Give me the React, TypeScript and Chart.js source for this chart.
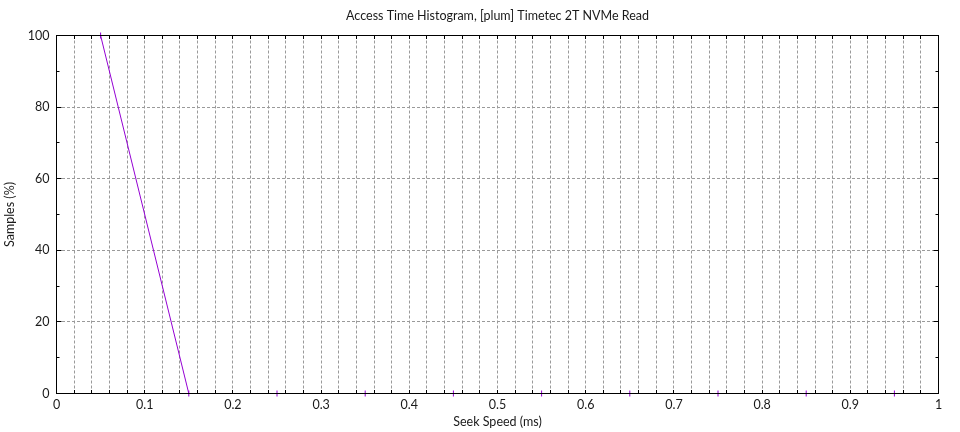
import React, { useEffect, useRef } from "react";
import { Chart, registerables } from "chart.js";

Chart.register(...registerables);

const chartTitle = "Access Time Histogram, [plum] Timetec 2T NVMe Read";
const xAxisTitle = "Seek Speed (ms)";
const yAxisTitle = "Samples (%)";

// Series: bucket centres (ms) and share of samples (%)
const seekSpeeds = [0.05, 0.15, 0.25, 0.35, 0.45, 0.55, 0.65, 0.75, 0.85, 0.95];
const samplePct = [100, 0, 0, 0, 0, 0, 0, 0, 0, 0];

const xMajorLabels = ["0", "0.1", "0.2", "0.3", "0.4", "0.5", "0.6", "0.7", "0.8", "0.9", "1"];
const yMajorLabels = ["0", "20", "40", "60", "80", "100"];

const X_MIN = 0, X_MAX = 1, X_STEP = 0.02;
const Y_MIN = 0, Y_MAX = 100, Y_STEP = 10;

const LINE_COLOR = "#9400d3";
const TEXT_COLOR = "#1a1a1a";
const GRID_COLOR = "#9a9a9a";
const FONT = "Lato";
const FONT_SIZE = 12.5;

const xTickVals: number[] = [];
for (let i = 0; i <= Math.round((X_MAX - X_MIN) / X_STEP); i++) xTickVals.push(+(X_MIN + i * X_STEP).toFixed(4));
const yTickVals: number[] = [];
for (let i = 0; i <= Math.round((Y_MAX - Y_MIN) / Y_STEP); i++) yTickVals.push(Y_MIN + i * Y_STEP);

const isXMajor = (v: number) => Math.abs(v * 10 - Math.round(v * 10)) < 1e-6;
const isYMajor = (v: number) => Math.round(v) % 20 === 0;

const framePlugin = {
  id: "frame",
  afterDatasetsDraw(chart: any) {
    const { ctx, chartArea } = chart;
    const { left, right, top, bottom } = chartArea;
    const xs = chart.scales.x;
    const ys = chart.scales.y;
    ctx.save();
    ctx.strokeStyle = "#000";
    ctx.lineWidth = 1;
    ctx.beginPath();
    for (const v of xTickVals) {
      const px = Math.floor(xs.getPixelForValue(v)) + 0.5;
      ctx.moveTo(px, bottom);
      ctx.lineTo(px, bottom - 3.5);
      ctx.moveTo(px, top);
      ctx.lineTo(px, top + 3.5);
    }
    for (const v of yTickVals) {
      const py = Math.floor(ys.getPixelForValue(v)) + 0.5;
      const len = isYMajor(v) ? 5 : 3;
      ctx.moveTo(left, py);
      ctx.lineTo(left + len, py);
      ctx.moveTo(right, py);
      ctx.lineTo(right - len, py);
    }
    ctx.stroke();
    ctx.strokeRect(left, top, right - left, bottom - top);
    ctx.restore();
  },
};

export default function App() {
  const canvasRef = useRef<HTMLCanvasElement | null>(null);

  useEffect(() => {
    if (!canvasRef.current) return;
    const chart = new Chart(canvasRef.current, {
      type: "scatter",
      data: {
        datasets: [
          {
            label: "samples",
            data: seekSpeeds.map((x, i) => ({ x, y: samplePct[i] })),
            showLine: true,
            borderColor: LINE_COLOR,
            backgroundColor: LINE_COLOR,
            borderWidth: 1,
            pointStyle: "line",
            rotation: 90,
            pointRadius: 3,
            pointBorderWidth: 1,
            pointBorderColor: LINE_COLOR,
            pointHoverRadius: 3,
            clip: false,
          } as any,
        ],
      },
      options: {
        animation: false,
        responsive: true,
        maintainAspectRatio: false,
        devicePixelRatio: 1,
        layout: { padding: { left: 0, right: 21.5, top: 0, bottom: 0 } },
        plugins: {
          legend: { display: false },
          tooltip: { enabled: false },
          title: {
            display: true,
            fullSize: false,
            text: chartTitle,
            color: TEXT_COLOR,
            font: { family: FONT, size: FONT_SIZE, weight: "normal", lineHeight: 1.2 },
            padding: { top: 8.7, bottom: 11.8 },
          },
        },
        scales: {
          x: {
            type: "linear",
            min: X_MIN,
            max: X_MAX,
            afterBuildTicks: (scale: any) => {
              scale.ticks = xTickVals.map((v) => ({ value: v }));
            },
            afterFit: (scale: any) => {
              scale.height = 38.5;
            },
            border: { display: false, dash: [3, 2] },
            grid: {
              drawTicks: false,
              color: (c: any) => (c.tick && (c.tick.value <= X_MIN || c.tick.value >= X_MAX) ? "rgba(0,0,0,0)" : GRID_COLOR),
              lineWidth: 1,
            },
            ticks: {
              autoSkip: false,
              maxRotation: 0,
              padding: 4,
              color: TEXT_COLOR,
              font: { family: FONT, size: FONT_SIZE },
              callback: (v: any) => {
                const n = Number(v);
                return isXMajor(n) ? xMajorLabels[Math.round(n * 10)] : "";
              },
            },
            title: {
              display: true,
              text: xAxisTitle,
              color: TEXT_COLOR,
              font: { family: FONT, size: FONT_SIZE },
              padding: { top: 2, bottom: 2.5 },
            },
          } as any,
          y: {
            type: "linear",
            min: Y_MIN,
            max: Y_MAX,
            afterBuildTicks: (scale: any) => {
              scale.ticks = yTickVals.map((v) => ({ value: v }));
            },
            afterFit: (scale: any) => {
              scale.width = 56.5;
            },
            border: { display: false, dash: [3, 2] },
            grid: {
              drawTicks: false,
              color: (c: any) =>
                c.tick && isYMajor(c.tick.value) && c.tick.value > Y_MIN && c.tick.value < Y_MAX ? GRID_COLOR : "rgba(0,0,0,0)",
              lineWidth: 1,
            },
            ticks: {
              autoSkip: false,
              padding: 7,
              color: TEXT_COLOR,
              font: { family: FONT, size: FONT_SIZE },
              callback: (v: any) => {
                const n = Number(v);
                return isYMajor(n) ? yMajorLabels[Math.round(n / 20)] : "";
              },
            },
            title: {
              display: true,
              text: yAxisTitle,
              color: TEXT_COLOR,
              font: { family: FONT, size: FONT_SIZE },
              padding: { top: 2.5, bottom: 2 },
            },
          } as any,
        },
      },
      plugins: [framePlugin],
    });
    return () => chart.destroy();
  }, []);

  return (
    <div style={{ position: "fixed", left: 0, top: 0, width: 960, height: 432, background: "#fff" }}>
      <canvas ref={canvasRef} />
    </div>
  );
}
